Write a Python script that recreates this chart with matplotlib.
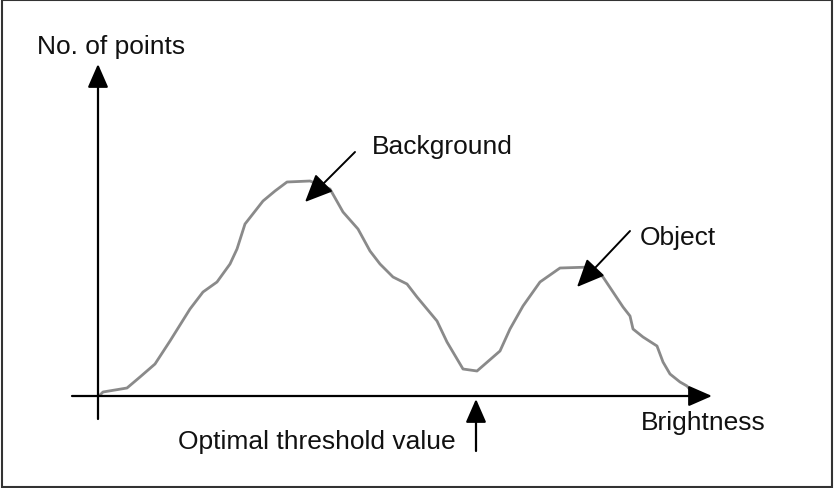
import matplotlib.pyplot as plt
from matplotlib.patches import Rectangle

plt.rcParams['font.family'] = ['Liberation Sans', 'DejaVu Sans']

# histogram outline (brightness, number of points)
brightness = [2, 5, 29, 42, 57, 72, 92, 105, 119, 132, 139, 147, 165, 177, 189,
              212, 232, 245, 260, 272, 282, 295, 309, 319, 339, 349, 365, 379,
              402, 412, 425, 442, 462, 494, 505, 515, 525, 532, 535, 545, 559,
              565, 572, 582, 589, 594]
points = [1, 4, 8, 19, 32, 55, 87, 104, 114, 132, 147, 172, 195, 205, 214,
          215, 207, 184, 167, 145, 132, 119, 112, 99, 75, 54, 27, 25,
          45, 67, 90, 114, 128, 129, 119, 104, 89, 80, 67, 59, 50,
          34, 22, 14, 10, 4]

threshold = 378
labels = {
    'Background': ((207, 194), (257, 244), (274, 250)),
    'Object': ((479, 109), (532, 165), (542, 159)),
}

fig = plt.figure(figsize=(8.34, 4.89), dpi=100)
ax = fig.add_axes([0, 0, 1, 1])
ax.set_xlim(-98, 736)
ax.set_ylim(-92, 397)
ax.axis('off')

# frame around the figure
fig.patches.append(Rectangle((0.002, 0.003), 0.996, 0.994, transform=fig.transFigure,
                             fill=False, edgecolor='#333333', lw=1.5))

ax.plot(brightness, points, color='#8a8a8a', lw=2.0, solid_joinstyle='round')

axis_arrow = dict(arrowstyle='-|>,head_length=0.8,head_width=0.35', color='black',
                  lw=1.6, shrinkA=0, shrinkB=0, mutation_scale=18)
# y axis
ax.annotate('', xy=(0, 332), xytext=(0, -23), arrowprops=axis_arrow)
# x axis
ax.annotate('', xy=(614, 0), xytext=(-26, 0), arrowprops=axis_arrow)
# threshold marker
ax.annotate('', xy=(threshold, -3), xytext=(threshold, -55), arrowprops=axis_arrow)

ptr_arrow = dict(arrowstyle='-|>,head_length=0.9,head_width=0.4', color='black',
                 lw=1.4, shrinkA=0, shrinkB=0, mutation_scale=19)
for name, (tip, tail, txt) in labels.items():
    ax.annotate('', xy=tip, xytext=tail, arrowprops=ptr_arrow)
    ax.text(txt[0], txt[1], name, fontsize=19, ha='left', va='center', color='#111111')

ax.text(-61, 350, 'No. of points', fontsize=19, ha='left', va='center', color='#111111')
ax.text(543, -26, 'Brightness', fontsize=19, ha='left', va='center', color='#111111')
ax.text(80, -45, 'Optimal threshold value', fontsize=19, ha='left', va='center', color='#111111')

fig.savefig('out.png', dpi=100)
